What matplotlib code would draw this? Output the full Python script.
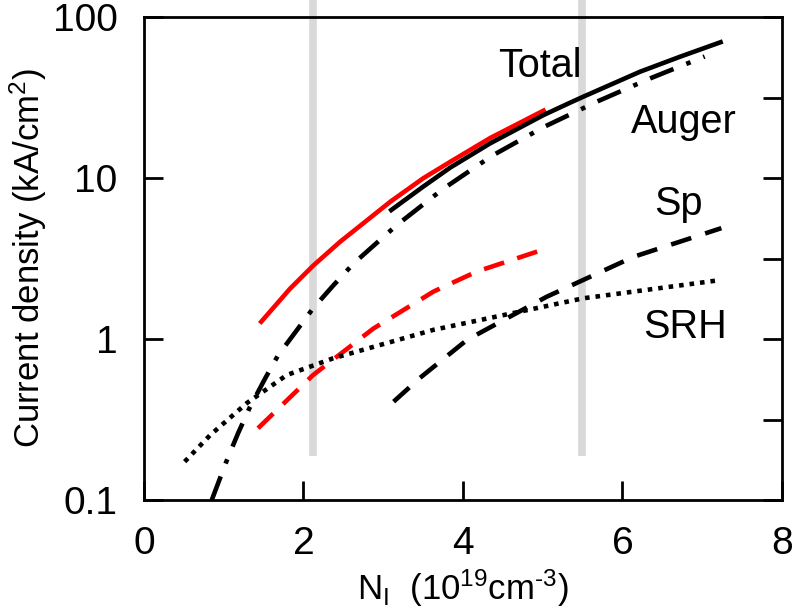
import numpy as np
import matplotlib
matplotlib.use('Agg')
import matplotlib.pyplot as plt
from matplotlib.ticker import FixedLocator, NullFormatter

plt.rcParams['font.family'] = ['Liberation Sans', 'DejaVu Sans']
plt.rcParams['mathtext.fontset'] = 'custom'
plt.rcParams['mathtext.rm'] = 'Liberation Sans'
plt.rcParams['mathtext.it'] = 'Liberation Sans:italic'

# values (N in 1e19 cm^-3, J in kA/cm^2)
total_red_x = [1.47, 1.83, 2.12, 2.46, 3.09, 3.5, 3.84, 4.34, 5.01]
total_red_y = [1.28, 2.05, 2.85, 4.02, 7.13, 9.95, 12.6, 17.7, 26.2]

total_x = [3.1, 3.5, 3.84, 4.34, 5.01, 5.34, 5.51, 6.22, 6.72, 7.23]
total_y = [6.32, 8.83, 11.6, 16.4, 24.6, 29.3, 32.0, 45.7, 56.6, 69.7]

auger_x = [0.85, 1.03, 1.18, 1.32, 1.52, 1.68, 1.92, 2.12, 2.37, 2.63, 3.17, 3.75,
           4.36, 5.01, 5.68, 6.35, 7.03]
auger_y = [0.1, 0.172, 0.26, 0.37, 0.57, 0.79, 1.14, 1.55, 2.14, 2.95, 5.1, 8.55,
           13.7, 20.7, 29.8, 41.6, 56.8]

sp_red_x = [1.43, 2.12, 2.875, 3.63, 4.17, 4.99]
sp_red_y = [0.279, 0.597, 1.16, 1.97, 2.62, 3.57]

sp_x = [3.13, 3.46, 4.05, 5.05, 6.14, 7.24]
sp_y = [0.408, 0.573, 0.987, 1.83, 3.24, 4.88]

srh_x = [0.51, 0.83, 1.29, 1.79, 2.37, 3.63, 5.51, 7.22]
srh_y = [0.173, 0.253, 0.40, 0.597, 0.758, 1.14, 1.79, 2.32]

marker_x = [2.115, 5.49]
marker_y = [0.187, 127]

labels = ['Total', 'Auger', 'Sp', 'SRH']
label_x = [4.97, 6.77, 6.70, 6.78]
label_y = [42.5, 19.0, 5.9, 1.01]

fig = plt.figure(figsize=(7.96, 6.15), dpi=100)
ax = fig.add_axes([0.1809, 0.187, 0.8015, 0.7854])

for xv in marker_x:
    ax.plot([xv, xv], marker_y, color='#d9d9d9', lw=5.5, solid_capstyle='butt',
            clip_on=False, zorder=1)

lw = 3.3
ax.plot(total_red_x, total_red_y, color='red', lw=lw, zorder=3)
ax.plot(total_x, total_y, color='black', lw=lw, zorder=3)
ax.plot(auger_x, auger_y, color='black', lw=lw, dashes=(5.5, 3, 1, 3), zorder=3)
ax.plot(sp_red_x, sp_red_y, color='red', lw=lw, dashes=(4.6, 3), zorder=3)
ax.plot(sp_x, sp_y, color='black', lw=lw, dashes=(4.6, 3.2), zorder=3)
ax.plot(srh_x, srh_y, color='black', lw=lw, dashes=(1, 1.3), zorder=3)

for t, xv, yv in zip(labels, label_x, label_y):
    ax.text(xv, yv, t, ha='center', va='baseline', fontsize=28.5)

ax.set_yscale('log')
ax.set_xlim(0, 8)
ax.set_ylim(0.1, 100)
ax.set_xticks([0, 2, 4, 6, 8])
ax.set_yticks([0.1, 1, 10, 100])
ax.set_yticklabels(['0.1', '1', '10', '100'])
ax.yaxis.set_minor_locator(FixedLocator([0.316, 3.16, 31.6]))
ax.yaxis.set_minor_formatter(NullFormatter())

ax.tick_params(which='major', direction='in', length=14, width=2, labelsize=28,
               left=True, right=True, bottom=True, top=False, pad=19)
ax.tick_params(which='minor', direction='in', length=14, width=2,
               left=False, right=True)
for s in ax.spines.values():
    s.set_linewidth(2)

ax.set_xlabel('$\\mathregular{N_I\\ \\ (10^{19}cm^{\u20103})}$', fontsize=25, labelpad=4)
ax.set_ylabel(r'Current density (kA/cm$\mathregular{^2}$)', fontsize=25, labelpad=3)

fig.savefig('out.png', dpi=100)
